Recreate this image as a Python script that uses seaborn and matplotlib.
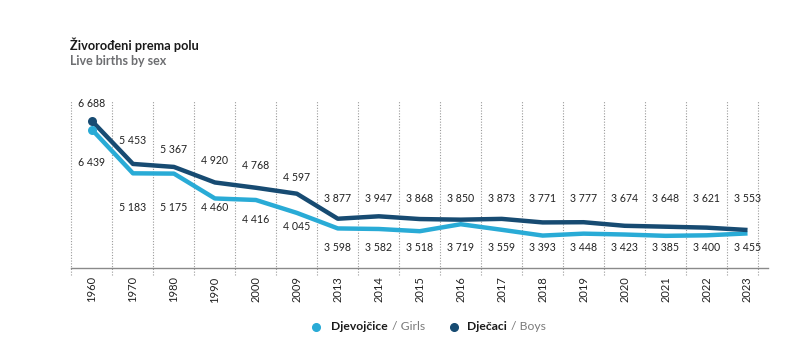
import matplotlib
matplotlib.use("Agg")
import matplotlib.pyplot as plt
import seaborn as sns
import pandas as pd
import numpy as np
from matplotlib.lines import Line2D

years = ["1960", "1970", "1980", "1990", "2000", "2009", "2013", "2014", "2015",
         "2016", "2017", "2018", "2019", "2020", "2021", "2022", "2023"]
girls = [6439, 5183, 5175, 4460, 4416, 4045, 3598, 3582, 3518,
         3719, 3559, 3393, 3448, 3423, 3385, 3400, 3455]
boys = [6688, 5453, 5367, 4920, 4768, 4597, 3877, 3947, 3868,
        3850, 3873, 3771, 3777, 3674, 3648, 3621, 3553]

title = "Živorođeni prema polu"
subtitle = "Live births by sex"

# layout: label rows (data units)
boys_label_y = [7177, 6113, 5854, 5566, 5394, 5049] + [4445] * 11
girls_label_y = [5480, 4186, 4186, 4186, 3841, 3668] + [3036] * 11

C_GIRLS = "#29abd6"
C_BOYS = "#174b72"

sns.set_theme(style="white")
plt.rcParams["font.family"] = ["Lato", "DejaVu Sans"]

fig = plt.figure(figsize=(8.12, 3.45), dpi=100)
ax = fig.add_axes([71.5 / 812, 1 - 268 / 345, (768 - 71.5) / 812, 168 / 345])

idx = np.arange(len(years))
df = pd.DataFrame({
    "pos": np.concatenate([idx, idx]),
    "value": girls + boys,
    "sex": ["Girls"] * len(years) + ["Boys"] * len(years),
})

sns.lineplot(data=df, x="pos", y="value", hue="sex",
             palette={"Girls": C_GIRLS, "Boys": C_BOYS},
             linewidth=3.2, legend=False, ax=ax, zorder=3)
for ln in ax.get_lines():
    ln.set_solid_capstyle("butt")
    ln.set_solid_joinstyle("round")

ax.scatter([idx[0]], [girls[0]], s=42, color=C_GIRLS, zorder=4, linewidths=0)
ax.scatter([idx[0]], [boys[0]], s=42, color=C_BOYS, zorder=4, linewidths=0)

ymin, ymax = 2460, 7292
ax.set_xlim(-0.5, 16.5)
ax.set_ylim(ymin, ymax)

# dotted separators
seps = list(np.arange(len(years)) - 0.5) + [16.25]
for s in seps:
    ax.plot([s, s], [ymin - 200, ymax], color="#9a9a9a", lw=0.8,
            ls=(0, (1, 1.5)), clip_on=False, zorder=1)

def fmt(v):
    return f"{v:,}".replace(",", " ")

for i in idx:
    ax.text(i, boys_label_y[i], fmt(boys[i]), ha="center", va="center",
            fontsize=7.6, color="#222222", zorder=5)
    ax.text(i, girls_label_y[i], fmt(girls[i]), ha="center", va="center",
            fontsize=7.6, color="#222222", zorder=5)

ax.set_xticks(idx)
ax.set_xticklabels(years, rotation=90, fontsize=8, color="#222222")
ax.set_yticks([])
ax.set_xlabel("")
ax.set_ylabel("")
ax.tick_params(axis="x", length=0, pad=6)
for sp in ["top", "left", "right"]:
    ax.spines[sp].set_visible(False)
ax.spines["bottom"].set_color("#8a8a8a")
ax.spines["bottom"].set_linewidth(1.0)

fig.text(70 / 812, 1 - 45 / 345, title, fontsize=9.2, fontweight="bold",
         color="#1a1a1a", va="center", ha="left")
fig.text(70 / 812, 1 - 61 / 345, subtitle, fontsize=9, fontweight="bold",
         color="#6d6e71", va="center", ha="left")

# legend
renderer = fig.canvas.get_renderer()
ly = 1 - 327 / 345

def legend_item(x_dot, x_text, color, bold_txt, light_txt):
    fig.add_artist(Line2D([x_dot / 812], [ly], marker="o", markersize=5.5, color=color,
                          lw=0, transform=fig.transFigure))
    t = fig.text(x_text / 812, ly, bold_txt, fontsize=8.7, fontweight="bold",
                 color="#1a1a1a", va="center", ha="left")
    bb = t.get_window_extent(renderer=renderer)
    fig.text((bb.x1 + 4) / 812, ly, "/ " + light_txt, fontsize=8.7, color="#7a7a7a",
             va="center", ha="left")

legend_item(316, 331, C_GIRLS, "Djevojčice", "Girls")
legend_item(454, 467, C_BOYS, "Dječaci", "Boys")

fig.savefig("out.png", dpi=100)
